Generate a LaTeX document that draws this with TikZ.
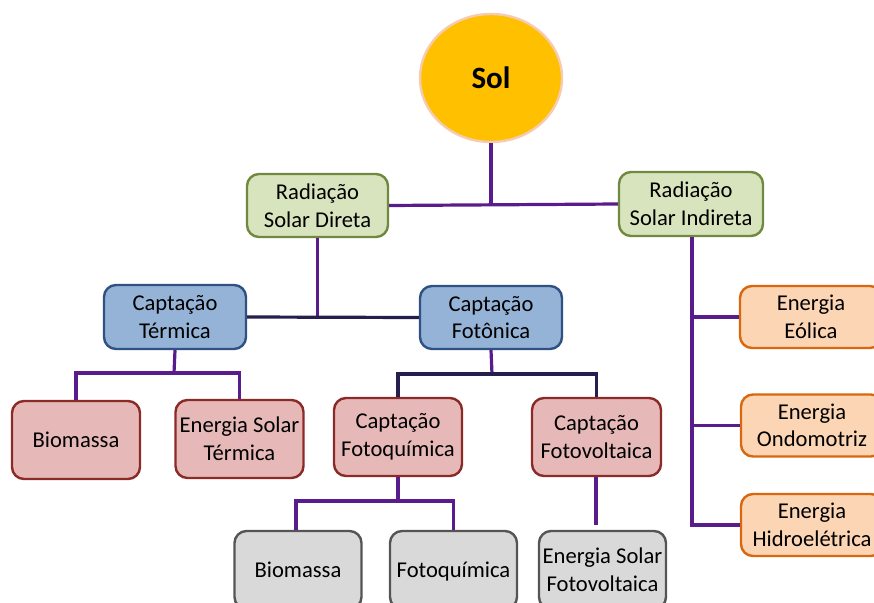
\documentclass[tikz,border=0pt]{standalone}
\usepackage{fontspec}
\setmainfont{Carlito}
\usetikzlibrary{shapes.geometric}

\definecolor{sunFill}{HTML}{FFC000}
\definecolor{sunRim}{HTML}{F6CCB0}
\definecolor{greenFill}{HTML}{D7E4BD}
\definecolor{greenRim}{HTML}{71893F}
\definecolor{blueFill}{HTML}{95B3D7}
\definecolor{blueRim}{HTML}{2F5282}
\definecolor{pinkFill}{HTML}{E6B9B8}
\definecolor{pinkRim}{HTML}{8C2A28}
\definecolor{grayFill}{HTML}{D9D9D9}
\definecolor{grayRim}{HTML}{555555}
\definecolor{orangeFill}{HTML}{FCD5B5}
\definecolor{orangeRim}{HTML}{D8670F}
\definecolor{linePurple}{HTML}{581C8C}
\definecolor{lineNavy}{HTML}{261F4E}

\tikzset{
  boxbase/.style={draw, rounded corners=12pt, line width=2.4pt, align=center,
    inner sep=0pt, font=\fontsize{22.6}{27.6}\selectfont},
  oneline/.style={text height=16pt, text depth=0.5pt},
  greenbox/.style={boxbase, fill=greenFill, draw=greenRim},
  bluebox/.style={boxbase, fill=blueFill, draw=blueRim},
  pinkbox/.style={boxbase, fill=pinkFill, draw=pinkRim, minimum width=128pt, minimum height=78pt},
  graybox/.style={boxbase, fill=grayFill, draw=grayRim, minimum width=127pt, minimum height=78pt},
  orangebox/.style={boxbase, fill=orangeFill, draw=orangeRim, minimum width=142pt, minimum height=62pt},
  link/.style={line width=3.2pt, draw=linePurple},
  darklink/.style={line width=3.2pt, draw=lineNavy},
}

\begin{document}
\begin{tikzpicture}[x=1pt, y=-1pt]
\useasboundingbox (0,0) rectangle (874,602);
\clip (0,0) rectangle (874,602);

% sun
\node[ellipse, draw=sunRim, line width=2.4pt, fill=sunFill, minimum width=142pt,
      minimum height=128pt, inner sep=0pt,
      font=\fontsize{31}{36}\selectfont\bfseries] (sol) at (491,78) {Sol};

% radiation level
\node[greenbox, minimum width=141pt, minimum height=63pt] (direta) at (317.5,205.5) {Radiação\\Solar Direta};
\node[greenbox, minimum width=144pt, minimum height=64pt] (indireta) at (691,204) {Radiação\\Solar Indireta};

% capture level
\node[bluebox, minimum width=142pt, minimum height=64pt] (termica) at (175,317) {Captação\\Térmica};
\node[bluebox, minimum width=142pt, minimum height=63pt] (fotonica) at (491,317.5) {Captação\\Fotônica};

\node[pinkbox, oneline] (bioA) at (76,440) {Biomassa};
\node[pinkbox] (est) at (239.5,439) {Energia Solar\\Térmica};
\node[pinkbox] (fotoq) at (398,437) {Captação\\Fotoquímica};
\node[pinkbox, minimum width=129pt] (fotov) at (596.5,437) {Captação\\Fotovoltaica};

% final uses
\node[graybox, oneline] (bioB) at (298,570) {Biomassa};
\node[graybox, oneline] (fotoqB) at (453.5,570) {Fotoquímica};
\node[graybox] (esfv) at (602.5,570) {Energia Solar\\Fotovoltaica};

% indirect forms
\node[orangebox] (eolica) at (811,317) {Energia\\Eólica};
\node[orangebox] (ondo) at (812,425.5) {Energia\\Ondomotriz};
\node[orangebox] (hidro) at (812,525) {Energia\\Hidroelétrica};

% junction points and guide columns
\coordinate (jTerm) at (174,373);
\coordinate (jFoton) at (492,374);
\coordinate (jFotoq) at (398,501);
\coordinate (fvEnd) at (596,525);
\coordinate (bioCol) at (296,0);
\coordinate (spine) at (692,0);

% connectors
\draw[link] (direta.east) -- (indireta.west);
\draw[link] (sol.south) -- (sol.south |- direta.east);
\draw[link] (direta.south) -- (direta.south |- termica.east);
\draw[darklink] (termica.east) -- (fotonica.west);

\draw[link] (termica.south) -- (jTerm);
\draw[link] (bioA.north) |- (jTerm) -| (est.north);

\draw[link] (fotonica.south) -- (jFoton);
\draw[darklink] (fotoq.north) |- (jFoton) -| (fotov.north);

\draw[link] (fotoq.south) -- (jFotoq);
\draw[link] (bioCol |- bioB.north) |- (jFotoq) -| (fotoqB.north);
\draw[link] (fvEnd |- fotov.south) -- (fvEnd);

\draw[link] (spine |- indireta.south) |- (hidro.west);
\draw[link] (spine |- eolica.west) -- (eolica.west);
\draw[link] (spine |- ondo.west) -- (ondo.west);
\end{tikzpicture}
\end{document}
